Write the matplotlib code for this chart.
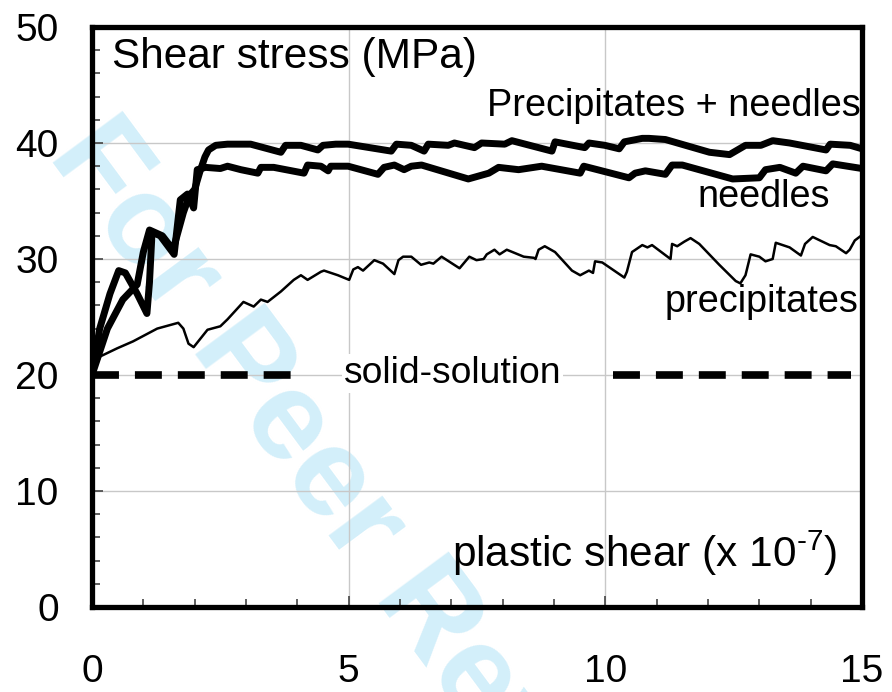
import matplotlib
matplotlib.use("Agg")
import matplotlib.pyplot as plt
from matplotlib.ticker import MultipleLocator

plt.rcParams['font.family'] = ['Liberation Sans', 'DejaVu Sans']
plt.rcParams['mathtext.fontset'] = 'custom'
plt.rcParams['mathtext.rm'] = 'Liberation Sans'
plt.rcParams['mathtext.it'] = 'Liberation Sans'
plt.rcParams['mathtext.default'] = 'regular'
plt.rcParams['lines.scale_dashes'] = False

# ---- data ----
solid_solution = 20.0
ss_left = [0.0, 3.95]
ss_right = [10.15, 14.79]

needles_x = [0, 0.15, 0.35, 0.52, 0.65, 0.88, 1.07, 1.12, 1.17, 1.33,
             1.6, 1.72, 1.86, 1.98, 2.05, 2.21, 2.50, 2.64, 2.9, 3.23,
             3.29, 3.54, 4.13, 4.20, 4.46, 4.60, 4.65, 4.99, 5.57, 5.69,
             5.89, 6.08, 6.22, 6.42, 7.33, 7.73, 7.92, 8.31, 8.76, 9.51,
             9.58, 10.46, 10.58, 10.78, 11.17, 11.30, 11.50, 12.48, 13.0, 13.12,
             13.40, 13.71, 13.85, 14.30, 14.43, 15.0]
needles_y = [20, 24.0, 27.0, 29.0, 28.8, 27.0, 25.3, 28.0, 32.3, 32.0,
             30.4, 35.1, 35.6, 34.4, 37.7, 37.9, 37.8, 38.0, 37.7, 37.4,
             37.9, 37.9, 37.4, 38.1, 38.0, 37.6, 38.0, 38.0, 37.3, 37.9,
             38.1, 37.7, 38.0, 38.1, 36.9, 37.4, 37.9, 37.7, 38.0, 37.4,
             38.0, 37.0, 37.4, 37.6, 37.3, 38.1, 38.1, 36.9, 37.0, 37.7,
             37.9, 37.4, 38.0, 37.6, 38.2, 37.8]

pn_x = [0, 0.3, 0.6, 0.88, 1.0, 1.12, 1.37, 1.58, 1.78, 1.9,
        2.0, 2.1, 2.2, 2.27, 2.41, 2.64, 2.84, 3.09, 3.68, 3.77,
        4.07, 4.40, 4.50, 4.75, 4.99, 5.83, 5.93, 6.22, 6.47, 6.55,
        6.94, 7.06, 7.45, 7.59, 8.04, 8.18, 8.96, 9.02, 9.60, 9.68,
        9.99, 10.27, 10.37, 10.72, 10.85, 11.17, 12.03, 12.42, 12.73, 13.03,
        13.26, 13.59, 14.30, 14.38, 14.77, 15.0]
pn_y = [20, 24.0, 26.5, 27.8, 30.6, 32.5, 32.0, 30.8, 34.0, 35.5,
        36.0, 37.5, 38.8, 39.4, 39.8, 39.9, 39.9, 39.9, 39.2, 39.8,
        39.8, 39.4, 39.8, 39.9, 39.9, 39.3, 39.9, 39.8, 39.3, 39.9,
        39.8, 40.0, 39.6, 40.0, 39.9, 40.2, 39.3, 40.1, 39.6, 40.0,
        39.8, 39.5, 40.1, 40.4, 40.4, 40.3, 39.2, 39.0, 39.8, 39.8,
        40.2, 40.0, 39.4, 39.9, 39.8, 39.5]

pr_x = [0, 0.16, 0.49, 0.80, 1.27, 1.68, 1.78, 1.88, 1.98, 2.25,
        2.50, 2.64, 2.95, 3.15, 3.29, 3.42, 3.68, 3.93, 4.07, 4.20,
        4.46, 4.52, 4.79, 5.01, 5.09, 5.18, 5.28, 5.50, 5.67, 5.89,
        5.97, 6.06, 6.22, 6.41, 6.57, 6.65, 6.81, 7.16, 7.35, 7.49,
        7.63, 7.69, 7.84, 7.94, 8.08, 8.41, 8.61, 8.64, 8.70, 8.82,
        9.02, 9.35, 9.51, 9.68, 9.76, 9.80, 9.94, 10.37, 10.42, 10.52,
        10.72, 10.82, 10.91, 11.27, 11.30, 11.40, 11.54, 11.66, 11.83, 12.22,
        12.54, 12.63, 12.73, 12.83, 13.0, 13.12, 13.26, 13.32, 13.59, 13.81,
        13.89, 14.04, 14.37, 14.49, 14.69, 14.76, 14.86, 14.98]
pr_y = [20, 21.6, 22.3, 22.9, 24.0, 24.5, 24.0, 22.7, 22.4, 23.9,
        24.2, 24.8, 26.3, 25.9, 26.5, 26.3, 27.2, 28.2, 28.6, 28.2,
        28.9, 29.0, 28.6, 28.2, 29.1, 29.3, 29.0, 29.9, 29.6, 28.7,
        29.9, 30.2, 30.2, 29.5, 29.7, 29.6, 30.2, 29.2, 30.2, 29.9,
        30.0, 30.4, 30.8, 30.4, 30.8, 30.2, 30.1, 30.0, 30.8, 31.1,
        30.6, 29.0, 28.6, 29.0, 28.8, 29.8, 29.7, 28.4, 28.9, 30.6,
        31.2, 31.0, 31.2, 30.0, 31.3, 31.1, 31.5, 31.8, 31.3, 29.5,
        28.1, 27.9, 28.6, 30.4, 30.2, 29.8, 30.0, 31.4, 31.0, 30.3,
        31.3, 31.9, 31.2, 31.1, 30.5, 30.8, 31.6, 32.0]

x_ticks = [0, 5, 10, 15]
y_ticks = [0, 10, 20, 30, 40, 50]

# ---- figure ----
W, H = 892, 692
fig = plt.figure(figsize=(W / 100, H / 100), dpi=100)
fig.patch.set_facecolor('white')

# watermark
fig.text(47 / W, 1 - 155 / H, "For Peer Review", fontsize=91, fontweight='bold',
         color='#d3effa', rotation=-53.5, rotation_mode='anchor',
         ha='left', va='baseline', zorder=-5)

ax = fig.add_axes([92 / W, 1 - 607 / H, (862 - 92) / W, (607 - 27) / H])
ax.set_facecolor('none')
ax.set_xlim(0, 15)
ax.set_ylim(0, 50)

ax.set_xticks(x_ticks)
ax.set_yticks(y_ticks)
ax.xaxis.set_minor_locator(MultipleLocator(1))
ax.yaxis.set_minor_locator(MultipleLocator(2))
ax.tick_params(which='major', direction='in', length=8, width=1.2, color='#444444',
               labelsize=28, top=False, right=False)
ax.tick_params(which='minor', direction='in', length=5.5, width=1.2, color='#444444',
               top=False, right=False)
ax.tick_params(axis='x', which='major', pad=34)
ax.tick_params(axis='y', which='major', pad=24)

ax.grid(True, which='major', color='#c8c8c8', linewidth=1.0, zorder=0)
ax.set_axisbelow(True)
for s in ax.spines.values():
    s.set_linewidth(3.8)
    s.set_color('black')
    s.set_zorder(10)

# curves
ax.plot(pr_x, pr_y, color='black', lw=1.8, solid_joinstyle='round', zorder=4)
ax.plot(needles_x, needles_y, color='black', lw=5.0, solid_joinstyle='round',
        solid_capstyle='round', zorder=5)
ax.plot(pn_x, pn_y, color='black', lw=5.0, solid_joinstyle='round',
        solid_capstyle='round', zorder=5)
ax.plot(ss_left, [solid_solution] * 2, color='black', lw=5.5, dashes=(19.4, 11.5), zorder=5)
ax.plot(ss_right, [solid_solution] * 2, color='black', lw=5.5, dashes=(19.4, 11.5), zorder=5)

# texts
ax.text(0.39, 46.5, "Shear stress (MPa)", fontsize=30.5, ha='left', va='baseline', zorder=8)
ax.text(14.98, 42.3, "Precipitates + needles", fontsize=27.3, ha='right', va='baseline', zorder=8)
ax.text(14.37, 34.5, "needles", fontsize=27.3, ha='right', va='baseline', zorder=8)
ax.text(14.94, 25.4, "precipitates", fontsize=27.3, ha='right', va='baseline', zorder=8)
ax.text(7.02, 19.3, "solid-solution", fontsize=26.8, ha='center', va='baseline', zorder=8,
        bbox=dict(boxstyle='square,pad=0.05', fc='white', ec='none'))
ax.text(7.01, 3.45, r"plastic shear (x 10$^{\text{-}7}$)", fontsize=30.5, ha='left',
        va='baseline', zorder=8)

fig.savefig("out.png", dpi=100, facecolor='white')
